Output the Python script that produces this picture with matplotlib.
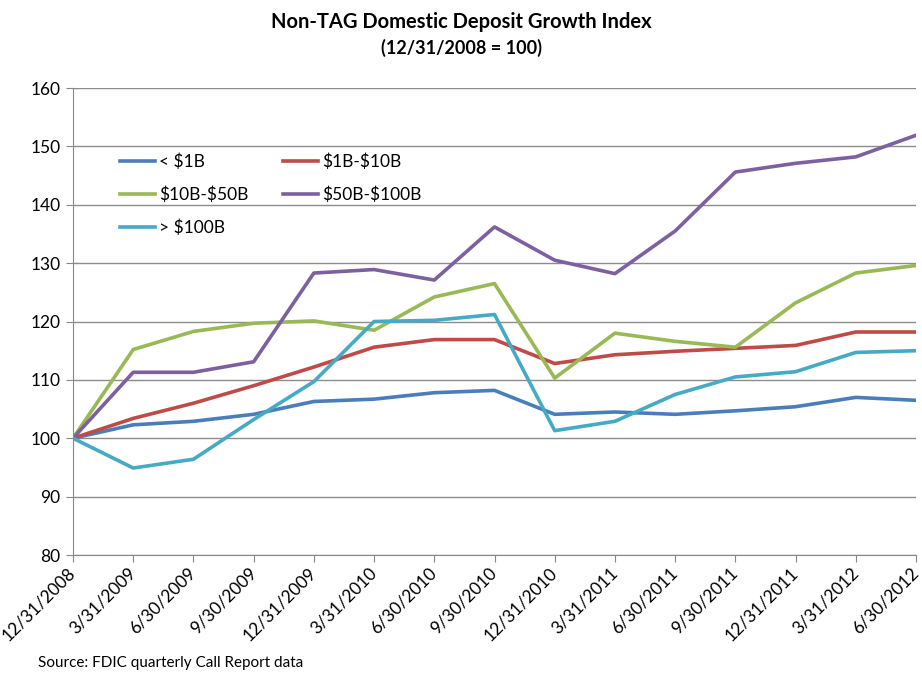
import matplotlib
matplotlib.use("Agg")
import matplotlib.pyplot as plt

dates = ["12/31/2008", "3/31/2009", "6/30/2009", "9/30/2009", "12/31/2009",
         "3/31/2010", "6/30/2010", "9/30/2010", "12/31/2010", "3/31/2011",
         "6/30/2011", "9/30/2011", "12/31/2011", "3/31/2012", "6/30/2012"]

lt1b = [100, 102.3, 102.9, 104.1, 106.3, 106.7, 107.8, 108.2, 104.1, 104.5, 104.1, 104.7, 105.4, 107.0, 106.5]
b1_10 = [100, 103.4, 106.0, 109.0, 112.2, 115.6, 116.9, 116.9, 112.8, 114.3, 114.9, 115.4, 115.9, 118.2, 118.2]
b10_50 = [100, 115.2, 118.3, 119.7, 120.1, 118.5, 124.2, 126.5, 110.3, 118.0, 116.6, 115.6, 123.2, 128.3, 129.6]
b50_100 = [100, 111.3, 111.3, 113.1, 128.3, 128.9, 127.1, 136.2, 130.5, 128.2, 135.5, 145.6, 147.1, 148.2, 151.9]
gt100b = [100, 94.9, 96.4, 103.2, 109.7, 120.0, 120.2, 121.2, 101.3, 102.9, 107.5, 110.5, 111.4, 114.7, 115.0]

names = ["< \\$1B", "\\$1B-\\$10B", "\\$10B-\\$50B", "\\$50B-\\$100B", "> \\$100B"]
colors = ["#4A7EBB", "#BE4B48", "#98B954", "#7D60A0", "#46AAC5"]

plt.rcParams['font.family'] = ['Lato', 'DejaVu Sans']

fig = plt.figure(figsize=(9.22, 6.77), dpi=100)
ax = fig.add_axes([73/922, 1-555/677, (916-73)/922, (555-88)/677])

series = [lt1b, b1_10, b10_50, b50_100, gt100b]
x = list(range(len(dates)))
handles = []
for s, c, n in zip(series, colors, names):
    h, = ax.plot(x, s, color=c, lw=2.6, label=n)
    handles.append(h)

ax.set_xlim(0, len(dates)-1)
ax.set_ylim(80, 160)
ax.set_yticks(range(80, 161, 10))
ax.set_xticks(x)
ax.set_xticklabels(dates, rotation=45, ha='right', va='center', rotation_mode='anchor', fontsize=12.5)
ax.tick_params(axis='y', labelsize=12.5, length=5, color='#888888', pad=4)
ax.tick_params(axis='x', length=5, color='#888888', pad=6)
ax.grid(axis='y', color='#8c8c8c', lw=1)
ax.set_axisbelow(True)
for sp in ['top', 'right']:
    ax.spines[sp].set_visible(False)
for sp in ['left', 'bottom']:
    ax.spines[sp].set_color('#888888')

order = [0, 2, 4, 1, 3]
ax.legend([handles[i] for i in order], [names[i] for i in order], ncol=2,
          loc='upper left', bbox_to_anchor=(0.037, 0.893), frameon=False,
          fontsize=12.5, handlelength=2.0, columnspacing=2.0, labelspacing=0.95,
          handletextpad=0.25)

fig.text(0.5, 1-22/677, "Non-TAG Domestic Deposit Growth Index", ha='center', va='center',
         fontsize=14.5, fontweight='bold')
fig.text(0.5, 1-48/677, "(12/31/2008 = 100)", ha='center', va='center',
         fontsize=13, fontweight='bold')
fig.text(38/922, 1-663/677, "Source: FDIC quarterly Call Report data", ha='left', va='center',
         fontsize=11)

fig.savefig("out.png", dpi=100)
